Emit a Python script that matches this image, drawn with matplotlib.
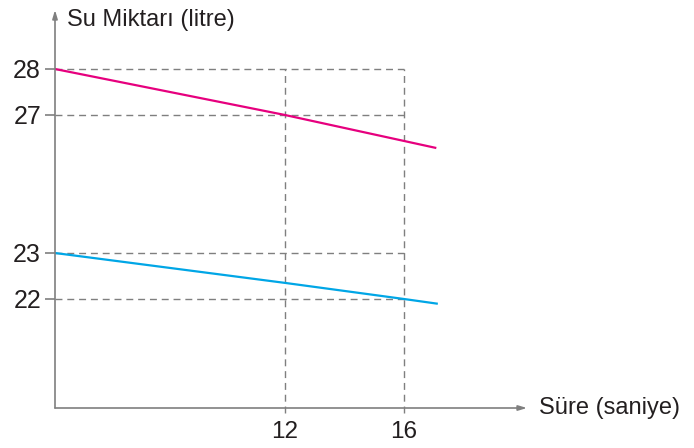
import numpy as np
import matplotlib.pyplot as plt

plt.rcParams['font.family'] = ['Liberation Sans', 'DejaVu Sans']

# data
sure_ticks = [12, 16]
su_ticks = [22, 23, 27, 28]

pembe_t = [0, 12, 17.05]
pembe_su = [28, 27, 26.05]

mavi_t = [0, 12, 16, 17.1]
mavi_su = [23, 22.35, 22, 21.9]

# the drawing is not to scale: piecewise axis mapping
xk = np.array([-20, 0, 12, 16, 40])
xp = np.array([55 - 20 * 230 / 12, 55, 285, 404, 404 + 24 * 29.75])
yk = np.array([0, 22, 23, 27, 28, 40])
yp = np.array([149 - 22 * 46, 149, 195, 333, 379, 379 + 12 * 46])

def fx(x): return np.interp(x, xk, xp)
def ix(p): return np.interp(p, xp, xk)
def fy(y): return np.interp(y, yk, yp)
def iy(p): return np.interp(p, yp, yk)

W, H = 694, 448
fig = plt.figure(figsize=(W / 100, H / 100), dpi=100)
ax = fig.add_axes([55 / W, 40 / H, (527 - 55) / W, (438 - 40) / H])
ax.set_xscale('function', functions=(fx, ix))
ax.set_yscale('function', functions=(fy, iy))
ax.set_xlim(0, ix(527))
ax.set_ylim(iy(40), iy(438))

grey = '#7f7f7f'
txt = '#231f20'

# guide lines
for v in su_ticks:
    ax.plot([0, 16], [v, v], color=grey, lw=1, ls=(0, (5, 3.5)), zorder=1)
for t in sure_ticks:
    ax.plot([t, t], [iy(35), 28], color=grey, lw=1, ls=(0, (5, 3.5)), zorder=1, clip_on=False)

ax.plot(pembe_t, pembe_su, color='#e6007e', lw=1.6, zorder=3)
ax.plot(mavi_t, mavi_su, color='#00a6e6', lw=1.6, zorder=3)

for s in ax.spines.values():
    s.set_visible(False)
ax.annotate('', xy=(1, 0), xytext=(0, 0), xycoords='axes fraction',
            arrowprops=dict(arrowstyle='-|>,head_length=0.5,head_width=0.15', color=grey, lw=1.2, shrinkA=0, shrinkB=0))
ax.annotate('', xy=(0, 1), xytext=(0, 0), xycoords='axes fraction',
            arrowprops=dict(arrowstyle='-|>,head_length=0.5,head_width=0.15', color=grey, lw=1.2, shrinkA=0, shrinkB=0))

ax.set_xticks(sure_ticks)
ax.set_xticklabels([str(t) for t in sure_ticks])
ax.set_yticks(su_ticks)
ax.set_yticklabels([str(v) for v in su_ticks])
ax.tick_params(axis='x', length=0, pad=9, labelsize=17.5, labelcolor=txt)
ax.tick_params(axis='y', length=7, width=1.2, color=grey, pad=3, labelsize=18, labelcolor=txt)
ax.minorticks_off()

ax.text(12 / (527 - 55), 1 - 10 / 398, 'Su Miktarı (litre)', transform=ax.transAxes,
        fontsize=17, color=txt, ha='left', va='center')
ax.text(1 + 12 / (527 - 55), 0, 'Süre (saniye)', transform=ax.transAxes,
        fontsize=17, color=txt, ha='left', va='center')

fig.savefig('out.png', dpi=100)
